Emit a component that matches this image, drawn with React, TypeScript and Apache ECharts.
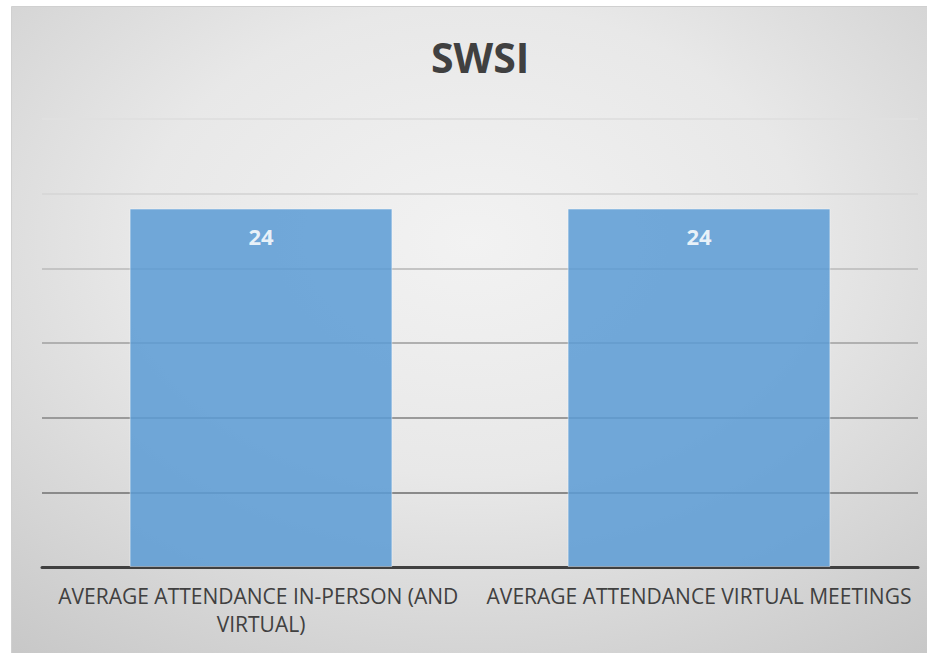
import React, { useEffect, useRef } from "react";
import * as echarts from "echarts";

const title = "SWSI";
const categories = [
  "AVERAGE ATTENDANCE IN-PERSON (AND VIRTUAL)",
  "AVERAGE ATTENDANCE VIRTUAL MEETINGS",
];
const values = [24, 24];
const yMin = 0;
const yMax = 30;
const yInterval = 5;
const gridColors = ["#888888", "#8a8a8a", "#9a9a9a", "#b0b0b0", "#c4c4c4", "#d8d8d8", "#e0e0e0"];

export default function App() {
  const ref = useRef<HTMLDivElement>(null);
  useEffect(() => {
    if (!ref.current) return;
    const chart = echarts.init(ref.current, null, { renderer: "svg" });
    chart.setOption({
      animation: false,
      backgroundColor: "#ffffff",
      graphic: [
        {
          type: "rect",
          z: -10,
          silent: true,
          shape: { x: 11.5, y: 6.5, width: 920, height: 652 },
          style: {
            fill: {
              type: "radial",
              x: 0.5,
              y: 0.36,
              r: 0.8,
              colorStops: [
                { offset: 0, color: "#f2f2f2" },
                { offset: 0.45, color: "#e8e8e8" },
                { offset: 1, color: "#c8c8c8" },
              ],
            },
            stroke: "#d0d0d0",
            lineWidth: 1,
          },
        },
      ],
      title: {
        text: title,
        left: 426,
        top: 31,
        textStyle: {
          fontFamily: "Open Sans",
          fontWeight: "bold",
          fontSize: 41,
          color: "#404040",
        },
      },
      grid: { left: 42, right: 9, top: 119, bottom: 86, containLabel: false },
      xAxis: {
        type: "category",
        data: categories,
        axisLine: { show: true, lineStyle: { color: "#404040", width: 3 } },
        axisTick: { show: false },
        axisLabel: {
          interval: 0,
          margin: 15,
          width: 438,
          overflow: "break",
          fontFamily: "Open Sans",
          fontSize: 21,
          lineHeight: 28,
          color: "#404040",
        },
      },
      yAxis: {
        type: "value",
        min: yMin,
        max: yMax,
        interval: yInterval,
        axisLabel: { show: false },
        axisLine: { show: false },
        axisTick: { show: false },
        splitLine: { show: true, lineStyle: { color: gridColors, width: 2 } },
      },
      series: [
        {
          type: "bar",
          data: values,
          barWidth: "60%",
          z: 1,
          itemStyle: {
            color: "#5b9bd5",
            opacity: 0.85,
            borderColor: "rgba(255,255,255,0.5)",
            borderWidth: 1,
          },
          label: {
            show: true,
            position: "insideTop",
            distance: 16,
            fontFamily: "Open Sans",
            fontWeight: "bold",
            fontSize: 22,
            color: "#ffffff",
          },
        },
      ],
    });
    return () => chart.dispose();
  }, []);
  return (
    <div
      ref={ref}
      style={{ position: "absolute", left: 0, top: 0, width: 927, height: 653 }}
    />
  );
}
